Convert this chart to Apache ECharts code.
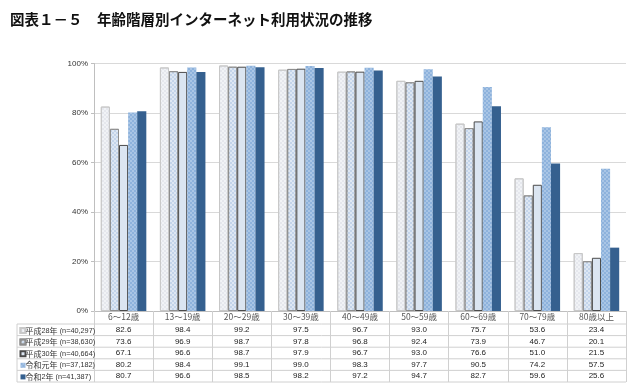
<!DOCTYPE html>
<html>
<head>
<meta charset="utf-8">
<script src="https://cdn.jsdelivr.net/npm/echarts@6/dist/echarts.min.js"></script>
<style>html,body{margin:0;padding:0;background:#fff}#c{width:634px;height:387px}</style>
</head>
<body>
<div id="c"></div>
<script>
const titleText = '図表１－５　年齢階層別インターネット利用状況の推移';
const categories = ['6～12歳','13～19歳','20～29歳','30～39歳','40～49歳','50～59歳','60～69歳','70～79歳','80歳以上'];
const seriesNames = ['平成28年 (n=40,297)','平成29年 (n=38,630)','平成30年 (n=40,664)','令和元年 (n=37,182)','令和2年 (n=41,387)'];
const h28 = [82.6, 98.4, 99.2, 97.5, 96.7, 93.0, 75.7, 53.6, 23.4];
const h29 = [73.6, 96.9, 98.7, 97.8, 96.8, 92.4, 73.9, 46.7, 20.1];
const h30 = [67.1, 96.6, 98.7, 97.9, 96.7, 93.0, 76.6, 51.0, 21.5];
const r1  = [80.2, 98.4, 99.1, 99.0, 98.3, 97.7, 90.5, 74.2, 57.5];
const r2  = [80.7, 96.6, 98.5, 98.2, 97.2, 94.7, 82.7, 59.6, 25.6];
const yTicks = [0, 20, 40, 60, 80, 100];

const values = [h28, h29, h30, r1, r2];
const FONT = '"Noto Sans CJK JP", sans-serif';
const SANS = '"Liberation Sans", "Noto Sans CJK JP", sans-serif';

// layout
const W = 634, H = 387;
const gLeft = 94, gRight = 626, gTop = 63.5, gBottom = 311;
const headerH = 13, rowH = 11.6, tableLeft = 17;
const rowTop = gBottom + headerH;
const tableBottom = rowTop + rowH * 5;

const styles = [
  {color:'#f1f3f6', borderColor:'#c8c8c8', borderWidth:1, decal:{symbol:'rect',symbolSize:1,dashArrayX:[[2,2],[0,2,2,0]],dashArrayY:[2,0],color:'rgba(205,210,220,0.35)'}},
  {color:'#c3d4ea', borderColor:'#8e8e8e', borderWidth:1, decal:{symbol:'rect',symbolSize:1,dashArrayX:[[2,2],[0,2,2,0]],dashArrayY:[2,0],color:'rgba(255,255,255,0.45)'}},
  {color:'#dbe5f1', borderColor:'#4a4a4a', borderWidth:1},
  {color:'#8db2dc', borderColor:'#8db2dc', borderWidth:0, decal:{symbol:'rect',symbolSize:1,dashArrayX:[[2,2],[0,2,2,0]],dashArrayY:[2,0],color:'rgba(255,255,255,0.25)'}},
  {color:'#35608f', borderColor:'#35608f', borderWidth:0}
];

const xAxes = [{
  type:'category', data:categories, gridIndex:0, position:'bottom',
  axisLine:{lineStyle:{color:'#bfbfbf', width:1}},
  axisTick:{show:true, length: tableBottom - gBottom, lineStyle:{color:'#d0d0d0'}},
  axisLabel:{interval:0, margin:2, fontSize:8.5, color:'#555', fontFamily:FONT}
}];
values.forEach((arr, k) => {
  xAxes.push({
    type:'category', data:categories, gridIndex:0, position:'bottom',
    offset: headerH + rowH * k + 1.8,
    axisLine:{show:false}, axisTick:{show:false}, splitLine:{show:false},
    axisLabel:{interval:0, margin:0, fontSize:8, color:'#222', fontFamily:SANS,
      formatter:(v, i) => arr[i].toFixed(1)}
  });
});

const graphics = [];
for (let k = 0; k <= 5; k++) {
  const y = rowTop + rowH * k;
  graphics.push({type:'line', shape:{x1:tableLeft, y1:y, x2:gRight, y2:y}, style:{stroke:'#d0d0d0', lineWidth:1}, z:1});
}
graphics.push({type:'line', shape:{x1:tableLeft, y1:rowTop, x2:tableLeft, y2:tableBottom}, style:{stroke:'#d0d0d0', lineWidth:1}, z:1});

const option = {
  animation:false,
  backgroundColor:'#fff',
  title:{text:titleText, left:10, top:12.5, padding:0,
    textStyle:{fontSize:14.5, fontWeight:'bold', color:'#111', fontFamily:FONT}},
  grid:{left:gLeft, right:W - gRight, top:gTop, bottom:H - gBottom, containLabel:false},
  legend:{orient:'vertical', left:tableLeft + 2.5, top:rowTop + 1.5, padding:0, height:80,
    itemWidth:5, itemHeight:5, itemGap:1.6, icon:'rect',
    selectedMode:false, data:seriesNames,
    formatter: name => name.replace(/([^\x00-\x7f]+)/g, '{c|$1}'),
    textStyle:{fontSize:7.3, color:'#333', fontFamily:SANS, lineHeight:10, padding:[0,0,0,-5],
      rich:{c:{fontSize:8, fontFamily:FONT, color:'#333', lineHeight:10}}}},
  xAxis: xAxes,
  yAxis:{type:'value', min:yTicks[0], max:yTicks[yTicks.length-1], interval:yTicks[1]-yTicks[0],
    axisLine:{show:true, lineStyle:{color:'#bfbfbf'}},
    axisTick:{show:true, length:3, lineStyle:{color:'#bfbfbf'}},
    axisLabel:{formatter:'{value}%', fontSize:8, color:'#333', margin:6, fontFamily:SANS},
    splitLine:{lineStyle:{color:'#d9d9d9'}}},
  series: values.map((arr, k) => ({
    name: seriesNames[k], type:'bar', data:arr, xAxisIndex:0,
    barGap:'0%', barCategoryGap:'23%',
    itemStyle: styles[k]
  })),
  graphic: graphics
};
const chart = echarts.init(document.getElementById('c'), null, {renderer:'canvas'});
chart.setOption(option);
</script>
</body>
</html>
